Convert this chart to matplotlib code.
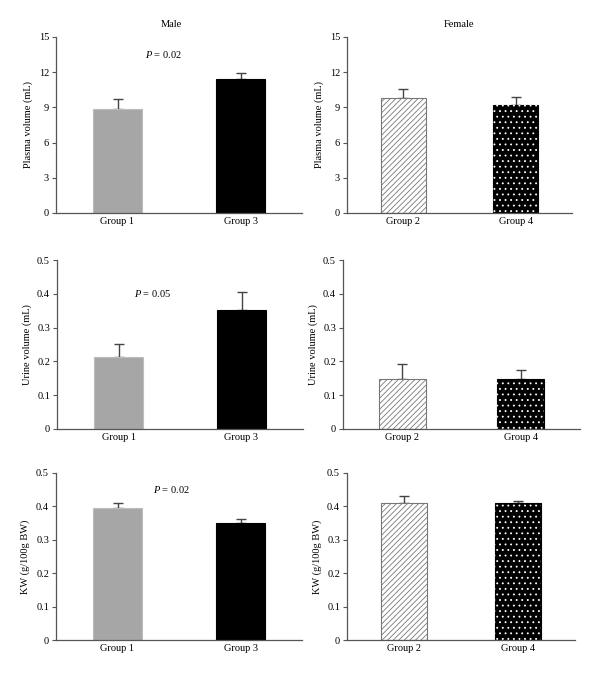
import numpy as np
import matplotlib
matplotlib.use('Agg')
import matplotlib.pyplot as plt

plt.rcParams['font.family'] = ['Liberation Serif', 'DejaVu Serif']
plt.rcParams['font.size'] = 7.5
plt.rcParams['mathtext.fontset'] = 'custom'
plt.rcParams['mathtext.rm'] = 'Liberation Serif'
plt.rcParams['mathtext.it'] = 'Liberation Serif:italic'
plt.rcParams['hatch.linewidth'] = 0.6

# Data
male_groups = ['Group 1', 'Group 3']
female_groups = ['Group 2', 'Group 4']

plasma_male = [8.87, 11.45]
plasma_male_err = [0.85, 0.48]
plasma_female = [9.80, 9.23]
plasma_female_err = [0.77, 0.63]

urine_male = [0.212, 0.353]
urine_male_err = [0.040, 0.053]
urine_female = [0.149, 0.147]
urine_female_err = [0.043, 0.027]

kw_male = [0.394, 0.350]
kw_male_err = [0.016, 0.011]
kw_female = [0.410, 0.409]
kw_female_err = [0.021, 0.006]

p_texts = ['0.02', '0.05', '0.02']
ylabels = ['Plasma volume (mL)', 'Urine volume (mL)', 'KW (g/100g BW)']
yticks_plasma = [0, 3, 6, 9, 12, 15]
yticks_small = [0, 0.1, 0.2, 0.3, 0.4, 0.5]
ytick_labels_small = ['0', '0.1', '0.2', '0.3', '0.4', '0.5']

W, H = 600, 676
fig = plt.figure(figsize=(W / 100, H / 100), dpi=100)

def px_axes(x0, x1, ytop, ybot):
    return fig.add_axes([x0 / W, 1 - ybot / H, (x1 - x0) / W, (ybot - ytop) / H])

axes = [
    [px_axes(56, 302, 37, 213), px_axes(347, 572, 37, 213)],
    [px_axes(57, 303, 260, 429), px_axes(343, 580, 260, 429)],
    [px_axes(56, 302, 473, 640), px_axes(347, 575, 473, 640)],
]

male_vals = [plasma_male, urine_male, kw_male]
male_errs = [plasma_male_err, urine_male_err, kw_male_err]
female_vals = [plasma_female, urine_female, kw_female]
female_errs = [plasma_female_err, urine_female_err, kw_female_err]
p_pos = [(0.37, 13.5), (0.28, 0.40), (0.44, 0.45)]

spine_col = '#555555'
err_col = '#444444'
x = np.arange(2)
width = 0.4


def style_axis(ax, row):
    for s in ['top', 'right']:
        ax.spines[s].set_visible(False)
    for s in ['left', 'bottom']:
        ax.spines[s].set_color(spine_col)
        ax.spines[s].set_linewidth(0.9)
    ax.set_xlim(-0.5, 1.5)
    if row == 0:
        ax.set_ylim(0, 15)
        ax.set_yticks(yticks_plasma)
    else:
        ax.set_ylim(0, 0.5)
        ax.set_yticks(yticks_small)
        ax.set_yticklabels(ytick_labels_small)
    ax.tick_params(axis='y', length=3, width=0.8, color=spine_col, pad=2)
    ax.tick_params(axis='x', length=0, pad=3)
    ax.set_ylabel(ylabels[row], labelpad=4)


for row in range(3):
    axm, axf = axes[row]

    # male panel
    axm.bar(x, male_vals[row], width, color=['#a6a6a6', 'black'],
            edgecolor=['#bdbdbd', 'black'], linewidth=0.8, zorder=2)
    axm.errorbar(x, male_vals[row], yerr=[[0, 0], male_errs[row]], fmt='none',
                 ecolor=err_col, elinewidth=1, capsize=3.5, capthick=1, zorder=1)
    axm.set_xticks(x)
    axm.set_xticklabels(male_groups)
    style_axis(axm, row)
    px, py = p_pos[row]
    axm.text(px, py, '$P$ = ' + p_texts[row], ha='center', va='center',
             fontsize=7.5)

    # female panel
    axf.bar(x[0], female_vals[row][0], width, color='white', edgecolor='#777777',
            hatch='//////', linewidth=0.8, zorder=2)
    axf.bar(x[1], female_vals[row][1], width, color='black', edgecolor='black',
            linewidth=0.8, zorder=2)
    axf.bar(x[1], female_vals[row][1], width, color='none', edgecolor='white',
            hatch='...', linewidth=0, zorder=3)
    axf.errorbar(x, female_vals[row], yerr=[[0, 0], female_errs[row]], fmt='none',
                 ecolor=err_col, elinewidth=1, capsize=3.5, capthick=1, zorder=1)
    axf.set_xticks(x)
    axf.set_xticklabels(female_groups)
    style_axis(axf, row)

axes[0][0].text(0.47, 1.07, 'Male', transform=axes[0][0].transAxes,
                ha='center', va='center')
axes[0][1].text(0.5, 1.07, 'Female', transform=axes[0][1].transAxes,
                ha='center', va='center')

fig.savefig('out.png', dpi=100)
